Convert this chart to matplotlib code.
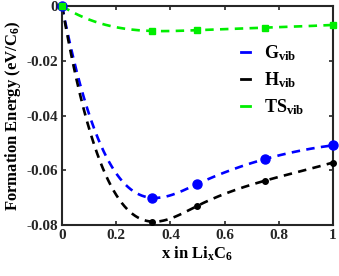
import numpy as np
import matplotlib
matplotlib.use("Agg")
import matplotlib.pyplot as plt

plt.rcParams['font.family'] = ['Liberation Serif', 'DejaVu Serif']
plt.rcParams['font.weight'] = 'bold'
plt.rcParams['mathtext.fontset'] = 'custom'
plt.rcParams['mathtext.rm'] = 'Liberation Serif:bold'
plt.rcParams['mathtext.it'] = 'Liberation Serif:bold'
plt.rcParams['mathtext.bf'] = 'Liberation Serif:bold'

# data
x = [0, 1/3, 0.5, 0.75, 1.0]
g_vib = [0, -0.0701, -0.0650, -0.0559, -0.0509]
h_vib = [0, -0.0788, -0.0730, -0.0638, -0.0572]
ts_vib = [0, -0.0091, -0.0088, -0.0079, -0.0069]


def spline(xk, yk, xs):
    # not-a-knot cubic spline (like MATLAB spline)
    xk = np.asarray(xk, float)
    yk = np.asarray(yk, float)
    n = len(xk)
    h = np.diff(xk)
    A = np.zeros((n, n))
    b = np.zeros(n)
    for i in range(1, n - 1):
        A[i, i - 1] = h[i - 1]
        A[i, i] = 2 * (h[i - 1] + h[i])
        A[i, i + 1] = h[i]
        b[i] = 6 * ((yk[i + 1] - yk[i]) / h[i] - (yk[i] - yk[i - 1]) / h[i - 1])
    A[0, 0], A[0, 1], A[0, 2] = h[1], -(h[0] + h[1]), h[0]
    A[-1, -3], A[-1, -2], A[-1, -1] = h[-1], -(h[-2] + h[-1]), h[-2]
    M = np.linalg.solve(A, b)
    idx = np.clip(np.searchsorted(xk, xs) - 1, 0, n - 2)
    x0, x1 = xk[idx], xk[idx + 1]
    hh = x1 - x0
    t0, t1 = x1 - xs, xs - x0
    return (M[idx] * t0**3 / (6 * hh) + M[idx + 1] * t1**3 / (6 * hh)
            + (yk[idx] / hh - M[idx] * hh / 6) * t0
            + (yk[idx + 1] / hh - M[idx + 1] * hh / 6) * t1)


xs = np.linspace(0, 1, 300)

fig = plt.figure(figsize=(3.39, 2.76), dpi=100)
ax = fig.add_axes([0.183, 0.185, 0.799, 0.793])

dash = (3.2, 2.4)
lw = 1.9
ax.plot(xs, spline(x, g_vib, xs), color='blue', lw=lw, dashes=dash, label='G$_{vib}$')
ax.plot(xs, spline(x, h_vib, xs), color='black', lw=lw, dashes=dash, label='H$_{vib}$')
ax.plot(xs, spline(x, ts_vib, xs), color='#00ee00', lw=lw, dashes=dash, label='TS$_{vib}$')

ax.plot(x, g_vib, 'o', color='blue', ms=6.5, clip_on=False, zorder=4)
ax.plot(x, h_vib, 'o', color='black', ms=4, clip_on=False, zorder=4)
ax.plot(x, ts_vib, 's', color='#00ee00', ms=5, clip_on=False, zorder=5)

ax.set_xlim(0, 1)
ax.set_ylim(-0.08, 0)
ax.set_xticks([0, 0.2, 0.4, 0.6, 0.8, 1])
ax.set_xticklabels(['0', '0.2', '0.4', '0.6', '0.8', '1'])
ax.set_yticks([-0.08, -0.06, -0.04, -0.02, 0])
ax.set_yticklabels(['-0.08', '-0.06', '-0.04', '-0.02', '0'])
ax.tick_params(direction='in', top=True, right=True, length=3, width=1.2,
               labelsize=11, pad=3, colors='#262626')
for lab in ax.get_xticklabels() + ax.get_yticklabels():
    lab.set_fontweight('bold')
    lab.set_color('#262626')
for sp in ax.spines.values():
    sp.set_linewidth(1.5)
    sp.set_color('#262626')

ax.set_xlabel('x in Li$_x$C$_6$', fontsize=12, fontweight='bold', labelpad=2)
ax.set_ylabel('Formation Energy (eV/C$_6$)', fontsize=12, fontweight='bold', labelpad=2)

leg = ax.legend(loc='upper right', bbox_to_anchor=(0.955, 0.905), frameon=False,
                fontsize=13, handlelength=0.5, handletextpad=0.8, labelspacing=0.4)
for line in leg.get_lines():
    line.set_linestyle('-')
    line.set_linewidth(2)

fig.savefig('out.png', dpi=100)
